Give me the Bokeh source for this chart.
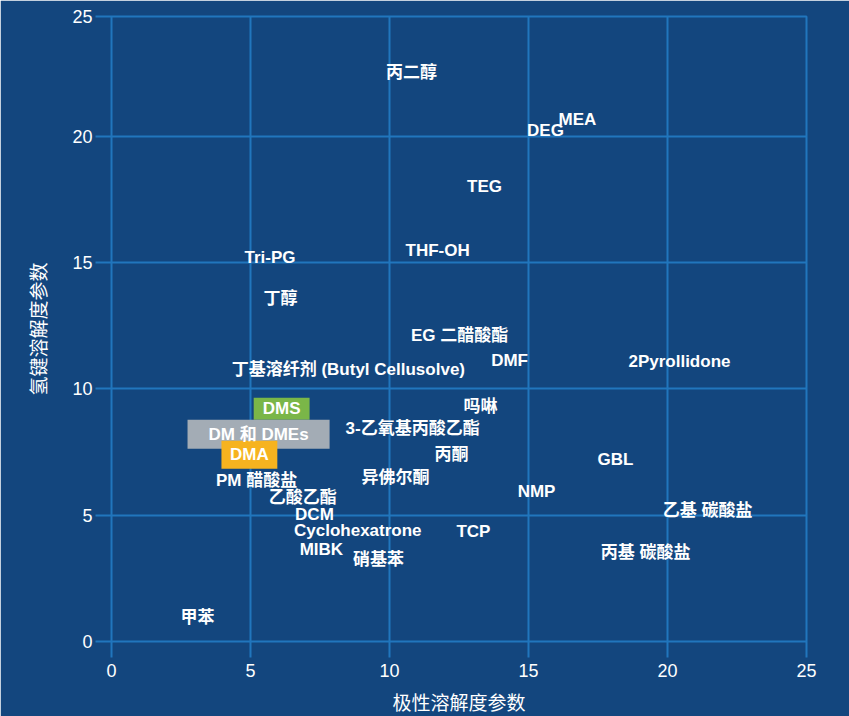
from bokeh.plotting import figure
from bokeh.models import Range1d, FixedTicker, ColumnDataSource
from bokeh.embed import file_html
from bokeh.resources import INLINE
from bokeh.core.properties import value

# Solvent labels with (polar solubility parameter, hydrogen-bond solubility parameter)
solvents = ["丙二醇", "MEA", "DEG", "TEG", "THF-OH", "Tri-PG", "丁醇", "EG 二醋酸酯",
            "DMF", "丁基溶纤剂 (Butyl Cellusolve)", "2Pyrollidone", "吗啉",
            "3-乙氧基丙酸乙酯", "丙酮", "GBL", "异佛尔酮", "PM 醋酸盐", "乙酸乙酯",
            "NMP", "DCM", "乙基 碳酸盐", "Cyclohexatrone", "TCP", "MIBK", "丙基 碳酸盐",
            "硝基苯", "甲苯"]
polar = [10.79, 16.76, 15.61, 13.42, 11.73, 5.70, 6.08, 12.52,
         14.32, 8.52, 20.43, 13.27,
         10.83, 12.23, 18.13, 10.22, 5.22, 6.88,
         15.29, 7.30, 21.44, 8.86, 13.02, 7.55, 19.21,
         9.60, 3.09]
hbond = [22.53, 20.67, 20.24, 18.02, 15.49, 15.22, 13.56, 12.13,
         11.11, 10.75, 11.07, 9.29,
         8.42, 7.39, 7.19, 6.48, 6.36, 5.69,
         5.93, 5.02, 5.18, 4.39, 4.35, 3.64, 3.52,
         3.24, 0.95]

# Highlighted solvent groups (boxes)
groups = ["DMS", "DM 和 DMEs", "DMA"]
group_x = [6.12, 5.29, 4.96]
group_y = [9.21, 8.20, 7.39]
group_w = [2.01, 5.11, 2.01]
group_h = [0.87, 1.15, 1.11]
group_colors = ["#7ab648", "#a3acb5", "#f6b31f"]

x_ticks = [0, 5, 10, 15, 20, 25]
y_top = 24.74          # top edge of the chart, labelled "25" in the original
y_ticks = [0, 5, 10, 15, 20, y_top]
y_tick_labels = ["0", "5", "10", "15", "20", "25"]

BG = "#13467e"
GRID = "#2176bd"
FONT = '"Liberation Sans", "Noto Sans CJK SC", sans-serif'

p = figure(width=849, height=716, output_backend="svg", toolbar_location=None,
           x_range=Range1d(0, 25), y_range=Range1d(0, y_top),
           min_border_left=111, min_border_right=43, min_border_top=16,
           min_border_bottom=74)
p.background_fill_color = BG
p.border_fill_color = BG
p.outline_line_color = GRID
p.outline_line_width = 2

for ax in (p.xaxis[0], p.yaxis[0]):
    ax.axis_line_color = None
    ax.major_tick_line_color = GRID
    ax.major_tick_line_width = 2
    ax.major_tick_out = 16
    ax.major_tick_in = 0
    ax.minor_tick_line_color = None
    ax.major_label_text_color = "white"
    ax.major_label_text_font = FONT
    ax.major_label_text_font_size = "18px"
    ax.axis_label_text_color = "white"
    ax.axis_label_text_font = FONT
    ax.axis_label_text_font_size = "19px"
    ax.axis_label_text_font_style = "normal"

p.xaxis.ticker = FixedTicker(ticks=x_ticks)
p.yaxis.ticker = FixedTicker(ticks=y_ticks)
p.yaxis.major_label_overrides = {t: l for t, l in zip(y_ticks, y_tick_labels)}
p.xaxis.axis_label = "极性溶解度参数"
p.yaxis.axis_label = "氢键溶解度参数"
p.xaxis.major_label_standoff = 6
p.xaxis.axis_label_standoff = 13
p.yaxis.major_label_standoff = 3
p.yaxis.axis_label_standoff = 19

p.xgrid[0].ticker = FixedTicker(ticks=x_ticks)
p.ygrid[0].ticker = FixedTicker(ticks=y_ticks)
for g in (p.xgrid[0], p.ygrid[0]):
    g.grid_line_color = GRID
    g.grid_line_width = 2

gsrc = ColumnDataSource(dict(x=group_x, y=group_y, w=group_w, h=group_h,
                             c=group_colors, t=groups))
p.rect(x="x", y="y", width="w", height="h", fill_color="c", line_color=None,
       source=gsrc)
p.text(x="x", y="y", text="t", source=gsrc, text_color="white",
       text_font=value(FONT), text_font_size="17px", text_font_style="bold",
       text_align="center", text_baseline="middle")

src = ColumnDataSource(dict(x=polar, y=hbond, t=solvents))
p.text(x="x", y="y", text="t", source=src, text_color="white",
       text_font=value(FONT), text_font_size="17px", text_font_style="bold",
       text_align="center", text_baseline="middle")

html = file_html(p, INLINE)
html = html.replace("<body>", '<body style="margin:0;background:%s">' % BG, 1)
open("out.html", "w").write(html)
